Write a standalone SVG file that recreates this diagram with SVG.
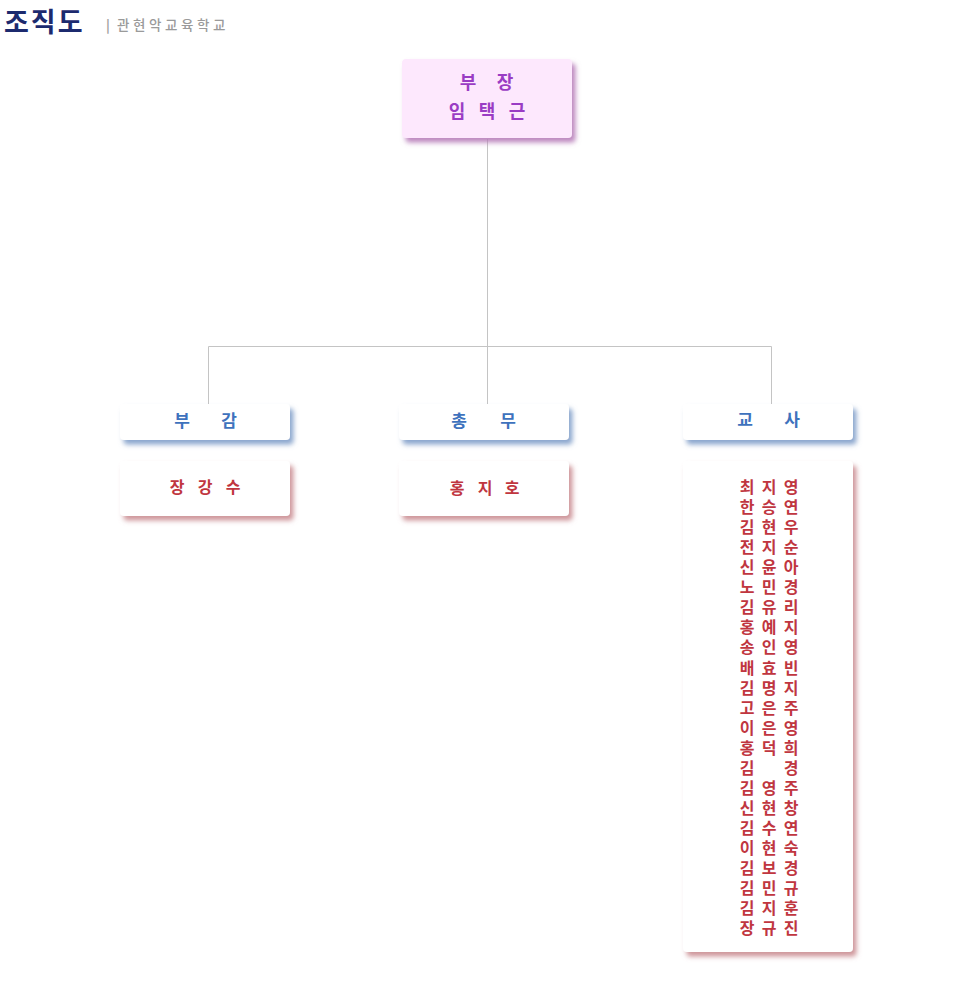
<svg xmlns="http://www.w3.org/2000/svg" width="964" height="1001" viewBox="0 0 964 1001">
<style>
text{font-family:"Noto Sans CJK KR","Noto Sans",sans-serif;font-weight:bold;text-anchor:middle}
.conn{stroke:#c4c4c4;stroke-width:1;fill:none}
.hd{fill:#ffffff;filter:url(#shB)}
.nm{fill:#ffffff;filter:url(#shR)}
.top{fill:#fde8fd;filter:url(#shP)}
.ht{fill:#3e72bd;font-size:17px}
.nt{fill:#c0363f;font-size:16px}
.vt{fill:#c0363f;font-size:16px;writing-mode:vertical-rl;text-anchor:start;letter-spacing:4.05px}
.pt{fill:#9a3cc4;font-size:18px}
</style>
<defs>
<filter id="shB" x="-10%" y="-30%" width="130%" height="180%"><feDropShadow dx="3.5" dy="4.5" stdDeviation="2.4" flood-color="#7e9cc8" flood-opacity="0.9"/></filter>
<filter id="shR" x="-10%" y="-10%" width="130%" height="130%"><feDropShadow dx="3.5" dy="4.5" stdDeviation="2.4" flood-color="#c98a90" flood-opacity="0.9"/></filter>
<filter id="shP" x="-10%" y="-20%" width="130%" height="150%"><feDropShadow dx="3.5" dy="4.5" stdDeviation="2.4" flood-color="#b67ab8" flood-opacity="0.9"/></filter>
</defs>
<rect width="964" height="1001" fill="#ffffff"/>
<g id="title">
<text x="4" y="32" style="text-anchor:start;font-size:27px;fill:#1c2a6e;letter-spacing:2px">조직도</text>
<text x="106" y="30" style="text-anchor:start;font-size:13px;fill:#a0a0a0">|</text>
<text x="117" y="30" style="text-anchor:start;font-size:13.5px;font-weight:500;fill:#9a9a9a;letter-spacing:3.6px">관현악교육학교</text>
</g>
<g id="connectors">
<path class="conn" d="M487.5 139V346.5M208.5 346.5H771.5M208.5 346.5V404M487.5 346.5V404M771.5 346.5V404"/>
</g>
<g id="node-bujang">
<rect class="top" x="402" y="59" width="170" height="79" rx="4"/>
<text class="pt" x="468 505" y="89">부장</text>
<text class="pt" x="457 487 517" y="118">임택근</text>
</g>
<g id="node-bugam">
<rect class="hd" x="120" y="404" width="170" height="36" rx="4"/>
<text class="ht" x="182 229" y="427">부감</text>
</g>
<g id="node-bugam-name">
<rect class="nm" x="120" y="461" width="170" height="55" rx="4"/>
<text class="nt" x="177 205 233" y="493">장강수</text>
</g>
<g id="node-chongmu">
<rect class="hd" x="399" y="404" width="170" height="36" rx="4"/>
<text class="ht" x="459 508" y="427">총무</text>
</g>
<g id="node-chongmu-name">
<rect class="nm" x="399" y="461" width="170" height="55" rx="4"/>
<text class="nt" x="457 485 512" y="494">홍지호</text>
</g>
<g id="node-gyosa">
<rect class="hd" x="683" y="404" width="170" height="36" rx="4"/>
<text class="ht" x="745 792" y="426">교사</text>
</g>
<g id="node-gyosa-names">
<rect class="nm" x="683" y="461" width="170" height="491" rx="4"/>
<text class="vt" x="747" y="479">최한김전신노김홍송배김고이홍김김신김이김김김장</text>
<text class="vt" x="769" y="479">지승현지윤민유예인효명은은덕　영현수현보민지규</text>
<text class="vt" x="791" y="479">영연우순아경리지영빈지주영희경주창연숙경규훈진</text>
</g>
</svg>
